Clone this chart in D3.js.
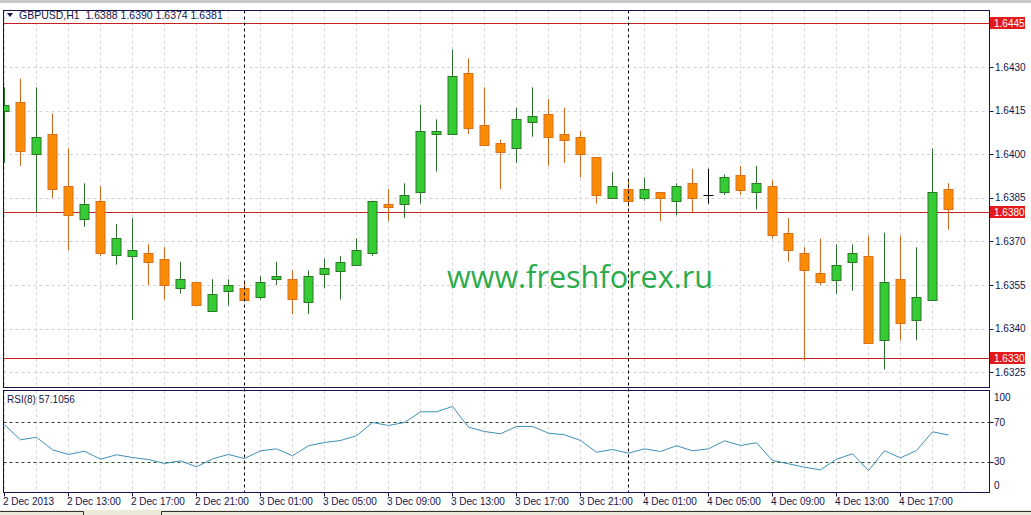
<!DOCTYPE html>
<html>
<head>
<meta charset="utf-8">
<script src="https://cdn.jsdelivr.net/npm/d3@7"></script>
<style>
  body { margin: 0; background: #fff; overflow: hidden; }
  text { font-family: "Liberation Sans", Arial, sans-serif; }
</style>
</head>
<body>
<svg id="chart" width="1031" height="515"></svg>
<script>
// GBPUSD H1, 60 bars from 2 Dec 2013 09:00
const opens = [1.6415,1.6418,1.6400,1.6407,1.6389,1.6378,1.6384,1.6365,1.6365,1.6366,
  1.6364,1.6354,1.6356,1.6346,1.6353,1.6354,1.6351,1.6357,1.6357,1.6349,
  1.6359,1.6360,1.6362,1.6366,1.6383,1.6383,1.6387,1.6407,1.6407,1.6428,
  1.6410,1.6404,1.6402,1.6411,1.6414,1.6407,1.6406,1.6399,1.6385,1.6388,
  1.6385,1.6387,1.6384,1.6390,1.6386,1.6387,1.6393,1.6387,1.6389,1.6373,
  1.6366,1.6359,1.6357,1.6363,1.6365,1.6336,1.6357,1.6343,1.6350,1.6388];
const highs = [1.6423,1.6426,1.6423,1.6414,1.6402,1.6390,1.6389,1.6376,1.6378,1.6369,
  1.6368,1.6363,1.6356,1.6357,1.6357,1.6356,1.6358,1.6363,1.6360,1.6360,
  1.6364,1.6365,1.6371,1.6384,1.6388,1.6390,1.6417,1.6412,1.6436,1.6433,
  1.6423,1.6405,1.6416,1.6423,1.6419,1.6416,1.6408,1.6399,1.6394,1.6391,
  1.6392,1.6387,1.6390,1.6395,1.6395,1.6393,1.6396,1.6396,1.6391,1.6378,
  1.6368,1.6371,1.6369,1.6369,1.6372,1.6373,1.6372,1.6368,1.6402,1.6390];
const lows = [1.6397,1.6396,1.6380,1.6385,1.6367,1.6375,1.6365,1.6362,1.6343,1.6355,
  1.6350,1.6352,1.6348,1.6346,1.6348,1.6350,1.6350,1.6355,1.6345,1.6345,
  1.6354,1.6350,1.6362,1.6365,1.6377,1.6378,1.6383,1.6394,1.6407,1.6407,
  1.6403,1.6388,1.6397,1.6406,1.6396,1.6397,1.6392,1.6383,1.6385,1.6382,
  1.6384,1.6377,1.6379,1.6380,1.6383,1.6386,1.6386,1.6381,1.6371,1.6363,
  1.6329,1.6355,1.6352,1.6353,1.6335,1.6326,1.6336,1.6336,1.6350,1.6374];
const closes = [1.6417,1.6401,1.6406,1.6388,1.6379,1.6383,1.6366,1.6371,1.6367,1.6363,
  1.6355,1.6357,1.6348,1.6352,1.6355,1.6350,1.6356,1.6358,1.6350,1.6358,
  1.6361,1.6363,1.6367,1.6384,1.6382,1.6386,1.6408,1.6408,1.6427,1.6409,
  1.6403,1.6401,1.6412,1.6413,1.6406,1.6405,1.6400,1.6386,1.6389,1.6384,
  1.6388,1.6385,1.6389,1.6385,1.6386,1.6392,1.6388,1.6390,1.6372,1.6367,
  1.6360,1.6356,1.6362,1.6366,1.6335,1.6356,1.6342,1.6351,1.6387,1.6381];
const rsi = [67.4,52.2,54.8,42.1,37.4,40.7,32.6,37.1,34.3,32.3,
  28.3,31.0,24.9,33.0,37.4,33.3,41.1,43.1,36.1,46.2,
  49.5,51.5,56.3,69.7,66.7,69.7,80.5,80.5,85.9,65.0,
  60.6,58.3,65.7,65.7,58.9,57.3,51.5,39.7,42.4,38.7,
  43.1,40.4,46.2,41.1,43.1,51.2,46.5,49.2,31.3,28.0,
  24.5,21.9,32.6,38.1,21.2,41.1,34.0,41.4,60.3,57.1];
const rsiLast = 57.1056;

const priceTicks = [1.6325,1.6340,1.6355,1.6370,1.6385,1.6400,1.6415,1.6430];
const levelLines = [1.6445,1.6380,1.6330];
const rsiTicks = [100,70,30,0];
const rsiLevels = [70,30];
const dateLabels = ["2 Dec 2013","2 Dec 13:00","2 Dec 17:00","2 Dec 21:00","3 Dec 01:00",
  "3 Dec 05:00","3 Dec 09:00","3 Dec 13:00","3 Dec 17:00","3 Dec 21:00",
  "4 Dec 01:00","4 Dec 05:00","4 Dec 09:00","4 Dec 13:00","4 Dec 17:00"];
const daySeparators = [15, 39];

const left = 3.5, right = 989.5;
const mainTop = 10.5, mainBottom = 387.5;
const rsiTop = 390.5, rsiBottom = 492.5;
const navy = "#14144a";

const svg = d3.select("#chart");
const fmt = d3.format(".4f");

const x = d3.scaleLinear().domain([0, 59]).range([4.5, 948.5]);
const y = d3.scaleLinear().domain([1.6325, 1.6430]).range([372.2, 67]);
const yr = d3.scaleLinear().domain([0, 100]).range([491.5, 392.5]);

// window chrome
svg.append("rect").attr("x", 0).attr("y", 0).attr("width", 1031).attr("height", 3).attr("fill", "#c9c9c9");
svg.append("rect").attr("x", 0).attr("y", 510).attr("width", 1031).attr("height", 5).attr("fill", "#ece9d8");
svg.append("path").attr("d", "M0,511.5H83.5V515M161.5,515V511.5H1031").attr("fill", "none").attr("stroke", "#333");

const defs = svg.append("defs");
defs.append("clipPath").attr("id", "clipMain").append("rect")
  .attr("x", left).attr("y", mainTop).attr("width", right - left).attr("height", mainBottom - mainTop);
defs.append("clipPath").attr("id", "clipRsi").append("rect")
  .attr("x", left).attr("y", rsiTop).attr("width", right - left).attr("height", rsiBottom - rsiTop);

const gridXs = d3.range(0, 62, 2);

// ---- main panel
const gm = svg.append("g").attr("clip-path", "url(#clipMain)");
gm.selectAll(".vgrid").data(gridXs).join("line")
  .attr("x1", d => x(d)).attr("x2", d => x(d)).attr("y1", mainTop).attr("y2", mainBottom)
  .attr("stroke", "#d2d2d2").attr("stroke-dasharray", "3,3");
gm.selectAll(".hgrid").data(priceTicks).join("line")
  .attr("x1", left).attr("x2", right)
  .attr("y1", d => Math.round(y(d)) + 0.5).attr("y2", d => Math.round(y(d)) + 0.5)
  .attr("stroke", "#d2d2d2").attr("stroke-dasharray", "3,3");

gm.append("text").attr("x", 580).attr("y", 288).attr("text-anchor", "middle")
  .attr("font-size", 31).attr("fill", "#2bab4c")
  .attr("textLength", 266).attr("lengthAdjust", "spacingAndGlyphs")
  .style("font-family", "'Open Sans', 'Liberation Sans', sans-serif")
  .text("www.freshforex.ru");

gm.selectAll(".level").data(levelLines).join("line")
  .attr("x1", left).attr("x2", right)
  .attr("y1", d => Math.round(y(d)) + 0.5).attr("y2", d => Math.round(y(d)) + 0.5)
  .attr("stroke", "#c42222");

const bars = d3.range(opens.length);
const kind = i => closes[i] > opens[i] ? "bull" : closes[i] < opens[i] ? "bear" : "doji";
const wickCol = { bull: "#2f6f2f", bear: "#d4651c", doji: "#000" };
const fillCol = { bull: "#33cc33", bear: "#ff8c00", doji: "#000" };
const edgeCol = { bull: "#2a7a2a", bear: "#d8701e", doji: "none" };

gm.selectAll(".wick").data(bars).join("line")
  .attr("x1", i => x(i)).attr("x2", i => x(i))
  .attr("y1", i => y(highs[i])).attr("y2", i => y(lows[i]))
  .attr("stroke", i => wickCol[kind(i)]);
gm.selectAll(".body").data(bars).join("rect")
  .attr("x", i => kind(i) === "doji" ? x(i) - 5 : x(i) - 4.5)
  .attr("width", i => kind(i) === "doji" ? 10 : 9)
  .attr("y", i => kind(i) === "doji" ? Math.round(y(opens[i])) : Math.round(y(Math.max(opens[i], closes[i]))) + 0.5)
  .attr("height", i => kind(i) === "doji" ? 1 : Math.max(1, Math.round(Math.abs(y(opens[i]) - y(closes[i])))))
  .attr("fill", i => fillCol[kind(i)])
  .attr("stroke", i => edgeCol[kind(i)]);

// ---- rsi panel
const gr = svg.append("g").attr("clip-path", "url(#clipRsi)");
gr.selectAll(".vgrid").data(gridXs).join("line")
  .attr("x1", d => x(d)).attr("x2", d => x(d)).attr("y1", rsiTop).attr("y2", rsiBottom)
  .attr("stroke", "#d2d2d2").attr("stroke-dasharray", "3,3");
gr.selectAll(".lvl").data(rsiLevels).join("line")
  .attr("x1", left).attr("x2", right)
  .attr("y1", d => Math.round(yr(d)) + 0.5).attr("y2", d => Math.round(yr(d)) + 0.5)
  .attr("stroke", "#2c4a2c").attr("stroke-dasharray", "3,3");
gr.append("path").datum(rsi)
  .attr("d", d3.line().x((d, i) => x(i)).y(d => yr(d)))
  .attr("fill", "none").attr("stroke", "#3d8fb8").attr("stroke-width", 1);

// day separators across both panels
svg.selectAll(".sep").data(daySeparators).join("line")
  .attr("x1", d => x(d)).attr("x2", d => x(d)).attr("y1", mainTop).attr("y2", rsiBottom)
  .attr("stroke", "#000").attr("stroke-dasharray", "3,3");

// frames
svg.append("rect").attr("x", left).attr("y", mainTop).attr("width", right - left).attr("height", mainBottom - mainTop)
  .attr("fill", "none").attr("stroke", navy);
svg.append("rect").attr("x", left).attr("y", rsiTop).attr("width", right - left).attr("height", rsiBottom - rsiTop)
  .attr("fill", "none").attr("stroke", navy);

// price axis
const pa = svg.append("g");
pa.selectAll(".tk").data(priceTicks).join("line")
  .attr("x1", right).attr("x2", right + 4)
  .attr("y1", d => Math.round(y(d)) + 0.5).attr("y2", d => Math.round(y(d)) + 0.5)
  .attr("stroke", navy);
pa.selectAll(".lb").data(priceTicks).join("text")
  .attr("x", 995).attr("y", d => y(d) + 3.5)
  .attr("font-size", 10).attr("fill", navy)
  .text(d => fmt(d));
const tags = pa.selectAll(".tag").data(levelLines).join("g")
  .attr("transform", d => `translate(0,${Math.round(y(d))})`);
tags.append("rect").attr("x", 990).attr("y", -6).attr("width", 35).attr("height", 12).attr("fill", "#e31a1a");
tags.append("text").attr("x", 994).attr("y", 4).attr("font-size", 10).attr("fill", "#fff").text(d => fmt(d));

// rsi axis
svg.selectAll(".rtk").data(rsiLevels).join("line")
  .attr("x1", right).attr("x2", right + 4)
  .attr("y1", d => Math.round(yr(d)) + 0.5).attr("y2", d => Math.round(yr(d)) + 0.5)
  .attr("stroke", navy);
svg.selectAll(".rlb").data(rsiTicks).join("text")
  .attr("x", 994)
  .attr("y", d => d === 100 ? yr(d) + 8 : d === 0 ? yr(d) - 3 : yr(d) + 3.5)
  .attr("font-size", 10).attr("fill", navy)
  .text(d => d);

// time axis
const labelBars = dateLabels.map((_, k) => k * 4);
svg.selectAll(".ttk").data(labelBars).join("line")
  .attr("x1", d => x(d)).attr("x2", d => x(d)).attr("y1", rsiBottom).attr("y2", rsiBottom + 4)
  .attr("stroke", navy);
svg.selectAll(".tlb").data(dateLabels).join("text")
  .attr("x", (d, k) => x(labelBars[k]) - 1.5).attr("y", 505)
  .attr("font-size", 10).attr("fill", navy)
  .text(d => d);

// titles
const last = opens.length - 1;
svg.append("path").attr("d", "M7,13H13L10,17Z").attr("fill", navy);
svg.append("text").attr("x", 19).attr("y", 19).attr("font-size", 10.5).attr("fill", navy)
  .attr("xml:space", "preserve")
  .text(`GBPUSD,H1  ${fmt(opens[last])} ${fmt(highs[last])} ${fmt(lows[last])} ${fmt(closes[last])}`);
svg.append("text").attr("x", 7).attr("y", 403).attr("font-size", 10).attr("fill", navy)
  .text(`RSI(8) ${rsiLast}`);
</script>
</body>
</html>
